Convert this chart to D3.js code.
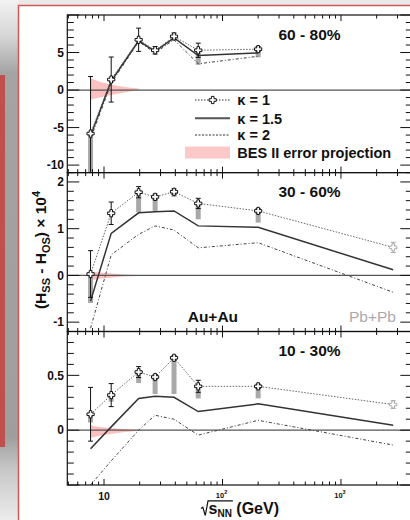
<!DOCTYPE html>
<html>
<head>
<meta charset="utf-8">
<script src="https://cdn.jsdelivr.net/npm/d3@7"></script>
<style>
  body { margin: 0; background: #fff; }
  svg { display: block; font-family: "Liberation Sans", Arial, Helvetica, sans-serif; }
</style>
</head>
<body>
<svg id="chart" width="410" height="520"></svg>
<script>
// ---------------- data ----------------
const energies = [7.7, 11.5, 19.6, 27, 39, 62.4, 200];   // Au+Au, GeV
const lhcEnergy = 2760;                                   // Pb+Pb, GeV
const centralities = ["60 - 80%", "30 - 60%", "10 - 30%"];

// kappa = 1 points with statistical errors
const kappa1_6080 = [-5.8, 1.4, 6.7, 5.3, 7.15, 5.3, 5.45];
const kappa1_3060 = [0.03, 1.33, 1.78, 1.68, 1.79, 1.54, 1.38];
const kappa1_1030 = [0.145, 0.32, 0.53, 0.485, 0.66, 0.4, 0.4];
const statErr_6080 = [7.6, 3.0, 1.55, 0.5, 0.45, 0.95, 0.35];
const statErr_3060 = [0.5, 0.24, 0.12, 0.06, 0.06, 0.11, 0.05];
const statErr_1030 = [0.245, 0.105, 0.05, 0.02, 0.02, 0.055, 0.02];

// lower end of the grey systematic boxes (upper end is the kappa = 1 point)
const sysLow_6080 = [-12, 1.0, 6.3, 5.0, 6.85, 3.37, 4.36];
const sysLow_3060 = [-0.59, 1.28, 1.35, 1.38, 1.68, 1.2, 1.13];
const sysLow_1030 = [0.07, 0.26, 0.43, 0.33, 0.33, 0.29, 0.29];

// kappa = 1.5 and kappa = 2 curves
const kappa15_6080 = [-6.1, 1.2, 6.55, 5.15, 6.95, 4.6, 4.95];
const kappa15_3060 = [-0.55, 0.9, 1.34, 1.36, 1.38, 1.06, 1.03];
const kappa15_1030 = [-0.17, 0.03, 0.29, 0.31, 0.30, 0.17, 0.24];
const kappa2_6080 = [-6.5, 0.9, 6.45, 4.95, 6.7, 3.5, 4.5];
const kappa2_3060 = [-1.13, 0.44, 0.88, 1.06, 0.97, 0.59, 0.7];
const kappa2_1030 = [-0.5, -0.28, 0.0, 0.136, 0.1, -0.045, 0.09];

// Pb+Pb 2.76 TeV: [kappa=1, stat err, kappa=1.5, kappa=2]
const pbpb_3060 = [0.6, 0.11, 0.12, -0.36];
const pbpb_1030 = [0.234, 0.035, 0.045, -0.136];

// BES II error projection band
const besEnergies = [7.7, 9.2, 11.5, 14.5, 19.6];
const besHigh_6080 = [1.6, 1.1, 0.75, 0.45, 0.2];
const besLow_6080 = [-1.3, -1.0, -0.65, -0.35, 0.0];
const besHigh_3060 = [0.09, 0.06, 0.04, 0.02, 0.005];
const besLow_3060 = [-0.1, -0.07, -0.05, -0.025, -0.005];
const besHigh_1030 = [0.045, 0.03, 0.02, 0.01, 0.003];
const besLow_1030 = [-0.07, -0.05, -0.035, -0.02, -0.005];

// axes
const xDomain = [4.9, 4000];
const xMajorTicks = [10, 100, 1000];
const xMinorTicks = [5, 6, 7, 8, 9, 20, 30, 40, 50, 60, 70, 80, 90,
                     200, 300, 400, 500, 600, 700, 800, 900, 2000, 3000];
const xTickLabels = [["10", ""], ["10", "2"], ["10", "3"]];
const yDomains = [[-11, 10], [-1.2, 2.2], [-0.5, 0.9]];
const yMajorSteps = [5, 1, 0.5];
const yMinorSteps = [1, 0.2, 0.1];
const yTickLabels = [[-10, -5, 0, 5], [-1, 0, 1, 2], [0, 0.5]];

// ---------------- assemble panels ----------------
const panels = [
  { label: centralities[0], k1: kappa1_6080, err: statErr_6080, sys: sysLow_6080,
    k15: kappa15_6080, k2: kappa2_6080, pb: null,
    besHi: besHigh_6080, besLo: besLow_6080 },
  { label: centralities[1], k1: kappa1_3060, err: statErr_3060, sys: sysLow_3060,
    k15: kappa15_3060, k2: kappa2_3060, pb: pbpb_3060,
    besHi: besHigh_3060, besLo: besLow_3060 },
  { label: centralities[2], k1: kappa1_1030, err: statErr_1030, sys: sysLow_1030,
    k15: kappa15_1030, k2: kappa2_1030, pb: pbpb_1030,
    besHi: besHigh_1030, besLo: besLow_1030 }
];

// ---------------- layout ----------------
const W = 410, H = 520;
const plotLeft = 67.3, plotRight = 412.3;
const panelTops = [15, 172.6, 331.5];
const panelBottoms = [172.6, 331.5, 485];

const svg = d3.select("#chart");
const defs = svg.append("defs");

// page background: slide frame around the figure
const g0 = defs.append("linearGradient").attr("id", "sideGrad")
  .attr("x1", 0).attr("y1", 0).attr("x2", 0).attr("y2", 1);
[[0, "#f2f2f2"], [0.07, "#d6d6d6"], [0.14, "#a4a4a4"], [0.84, "#9e9e9e"],
 [0.9, "#c6c6c6"], [1, "#ececec"]]
  .forEach(([o, c]) => g0.append("stop").attr("offset", o).attr("stop-color", c));
svg.append("rect").attr("width", W).attr("height", H).attr("fill", "#e9e9e9");
svg.append("rect").attr("x", 0).attr("y", 0).attr("width", 19).attr("height", H)
  .attr("fill", "url(#sideGrad)");
svg.append("rect").attr("x", 0).attr("y", 75).attr("width", 5).attr("height", 372)
  .attr("fill", "#c0504d");
svg.append("rect").attr("x", 18.5).attr("y", 5.5).attr("width", W).attr("height", H)
  .attr("fill", "#fff").attr("stroke", "#cd5a57").attr("stroke-width", 1.5);

const x = d3.scaleLog().domain(xDomain).range([plotLeft, plotRight]);

// open-cross marker outline
function crossPath(a = 3.6, b = 1.3) {
  return `M${-b},${-a}H${b}V${-b}H${a}V${b}H${b}V${a}H${-b}V${b}H${-a}V${-b}H${-b}Z`;
}
function stepRange(d0, d1, step) {
  const k0 = Math.ceil(d0 / step - 1e-9), k1 = Math.floor(d1 / step + 1e-9);
  return d3.range(k0, k1 + 1).map(k => +(k * step).toFixed(6));
}

panels.forEach((p, i) => {
  const top = panelTops[i], bottom = panelBottoms[i];
  const y = d3.scaleLinear().domain(yDomains[i]).range([bottom, top]);
  const clipId = "clip" + i;
  defs.append("clipPath").attr("id", clipId).append("rect")
    .attr("x", plotLeft).attr("y", top).attr("width", plotRight - plotLeft).attr("height", bottom - top);

  const g = svg.append("g");
  const inner = g.append("g").attr("clip-path", `url(#${clipId})`);

  // BES II projection band
  const bes = besEnergies.map((e, j) => ({ e, hi: p.besHi[j], lo: p.besLo[j] }));
  inner.append("path").datum(bes)
    .attr("fill", "#fbbaba").attr("fill-opacity", 0.9)
    .attr("d", d3.area().x(d => x(d.e)).y0(d => y(d.lo)).y1(d => y(d.hi)).curve(d3.curveMonotoneX));

  // zero line
  inner.append("line").attr("x1", plotLeft).attr("x2", plotRight)
    .attr("y1", y(0)).attr("y2", y(0)).attr("stroke", "#555").attr("stroke-width", 1.2);

  // systematic boxes
  inner.selectAll("rect.sys").data(energies.map((e, j) => ({ e, hi: p.k1[j], lo: p.sys[j] })))
    .join("rect").attr("class", "sys")
    .attr("x", d => x(d.e) - 2.5).attr("width", 5)
    .attr("y", d => y(d.hi)).attr("height", d => Math.max(0, y(d.lo) - y(d.hi)))
    .attr("fill", "#a9a9a9");

  const line = d3.line().x(d => x(d.e)).y(d => y(d.v));
  const withPb = (arr, idx) => {
    const pts = energies.map((e, j) => ({ e, v: arr[j] }));
    if (p.pb) pts.push({ e: lhcEnergy, v: p.pb[idx] });
    return pts;
  };

  // kappa = 2 (dash-dot)
  inner.append("path").datum(withPb(p.k2, 3)).attr("d", line)
    .attr("fill", "none").attr("stroke", "#444").attr("stroke-width", 1)
    .attr("stroke-dasharray", "3,2,1,2");
  // kappa = 1.5 (solid)
  inner.append("path").datum(withPb(p.k15, 2)).attr("d", line)
    .attr("fill", "none").attr("stroke", "#333").attr("stroke-width", 1.5);
  // kappa = 1 (dotted)
  inner.append("path").datum(withPb(p.k1, 0)).attr("d", line)
    .attr("fill", "none").attr("stroke", "#666").attr("stroke-width", 1)
    .attr("stroke-dasharray", "1.5,1.5");

  // error bars and markers (Au+Au)
  const pts = energies.map((e, j) => ({ e, v: p.k1[j], err: p.err[j] }));
  const eb = inner.selectAll("g.eb").data(pts).join("g").attr("class", "eb")
    .attr("stroke", "#111").attr("stroke-width", 1);
  eb.append("line").attr("x1", d => x(d.e)).attr("x2", d => x(d.e))
    .attr("y1", d => y(d.v + d.err)).attr("y2", d => y(d.v - d.err));
  eb.append("line").attr("x1", d => x(d.e) - 2.5).attr("x2", d => x(d.e) + 2.5)
    .attr("y1", d => y(d.v + d.err)).attr("y2", d => y(d.v + d.err));
  eb.append("line").attr("x1", d => x(d.e) - 2.5).attr("x2", d => x(d.e) + 2.5)
    .attr("y1", d => y(d.v - d.err)).attr("y2", d => y(d.v - d.err));
  inner.selectAll("path.mk").data(pts).join("path").attr("class", "mk")
    .attr("transform", d => `translate(${x(d.e)},${y(d.v)})`)
    .attr("d", crossPath()).attr("fill", "#fff").attr("stroke", "#111").attr("stroke-width", 1);

  // Pb+Pb point
  if (p.pb) {
    const px = x(lhcEnergy), v = p.pb[0], e = p.pb[1];
    const gp = inner.append("g").attr("stroke", "#aaa").attr("stroke-width", 1);
    gp.append("line").attr("x1", px).attr("x2", px).attr("y1", y(v + e)).attr("y2", y(v - e));
    gp.append("line").attr("x1", px - 2.5).attr("x2", px + 2.5).attr("y1", y(v + e)).attr("y2", y(v + e));
    gp.append("line").attr("x1", px - 2.5).attr("x2", px + 2.5).attr("y1", y(v - e)).attr("y2", y(v - e));
    gp.append("path").attr("transform", `translate(${px},${y(v)})`).attr("d", crossPath()).attr("fill", "#fff");
  }

  // frame
  g.append("rect").attr("x", plotLeft).attr("y", top)
    .attr("width", plotRight - plotLeft).attr("height", bottom - top)
    .attr("fill", "none").attr("stroke", "#111").attr("stroke-width", 1.2);

  // y ticks (left and right, pointing inward)
  const ticks = g.append("g").attr("stroke", "#111").attr("stroke-width", 1);
  const [d0, d1] = yDomains[i];
  const majors = stepRange(d0, d1, yMajorSteps[i]);
  const minors = stepRange(d0, d1, yMinorSteps[i]).filter(v => !majors.some(m => Math.abs(m - v) < 1e-6));
  majors.forEach(v => {
    ticks.append("line").attr("x1", plotLeft).attr("x2", plotLeft + 12).attr("y1", y(v)).attr("y2", y(v));
    ticks.append("line").attr("x1", plotRight).attr("x2", plotRight - 12).attr("y1", y(v)).attr("y2", y(v));
  });
  minors.forEach(v => {
    ticks.append("line").attr("x1", plotLeft).attr("x2", plotLeft + 6.5).attr("y1", y(v)).attr("y2", y(v));
    ticks.append("line").attr("x1", plotRight).attr("x2", plotRight - 6.5).attr("y1", y(v)).attr("y2", y(v));
  });
  // x ticks (top and bottom, pointing inward)
  xMajorTicks.forEach(t => {
    ticks.append("line").attr("x1", x(t)).attr("x2", x(t)).attr("y1", bottom).attr("y2", bottom - 6);
    ticks.append("line").attr("x1", x(t)).attr("x2", x(t)).attr("y1", top).attr("y2", top + 6);
  });
  xMinorTicks.forEach(t => {
    ticks.append("line").attr("x1", x(t)).attr("x2", x(t)).attr("y1", bottom).attr("y2", bottom - 3.5);
    ticks.append("line").attr("x1", x(t)).attr("x2", x(t)).attr("y1", top).attr("y2", top + 3.5);
  });

  // y tick labels
  g.selectAll("text.yl").data(yTickLabels[i]).join("text").attr("class", "yl")
    .attr("x", 64).attr("y", v => y(v)).attr("dy", "0.36em")
    .attr("text-anchor", "end").attr("font-size", 12).attr("font-weight", "bold")
    .attr("fill", "#111").text(v => String(v));

  // centrality label
  g.append("text").attr("x", 278.5).attr("y", top + 24.5)
    .attr("font-size", 15.5).attr("font-weight", "bold").attr("fill", "#111").text(p.label);
});

// collision system labels (middle panel)
svg.append("text").attr("x", 187.7).attr("y", 322).attr("font-size", 15.5)
  .attr("font-weight", "bold").attr("fill", "#111").text("Au+Au");
svg.append("text").attr("x", 349).attr("y", 322).attr("font-size", 15.5)
  .attr("fill", "#aaa").text("Pb+Pb");

// legend (top panel)
const leg = svg.append("g");
const legRows = [
  { label: "\u03ba = 1", y: 100, style: "k1" },
  { label: "\u03ba = 1.5", y: 118.3, style: "k15" },
  { label: "\u03ba = 2", y: 135, style: "k2" },
  { label: "BES II error projection", y: 152.5, style: "bes" }
];
legRows.forEach(r => {
  if (r.style === "k1") {
    leg.append("line").attr("x1", 195).attr("x2", 230).attr("y1", r.y).attr("y2", r.y)
      .attr("stroke", "#333").attr("stroke-width", 1).attr("stroke-dasharray", "1.5,1.5");
    leg.append("path").attr("transform", `translate(212.7,${r.y})`).attr("d", crossPath())
      .attr("fill", "#fff").attr("stroke", "#111");
  } else if (r.style === "k15") {
    leg.append("line").attr("x1", 195).attr("x2", 230).attr("y1", r.y).attr("y2", r.y)
      .attr("stroke", "#555").attr("stroke-width", 2);
  } else if (r.style === "k2") {
    leg.append("line").attr("x1", 195).attr("x2", 230).attr("y1", r.y).attr("y2", r.y)
      .attr("stroke", "#333").attr("stroke-width", 1).attr("stroke-dasharray", "2,1.5");
  } else {
    leg.append("rect").attr("x", 185).attr("y", r.y - 6).attr("width", 45).attr("height", 12)
      .attr("fill", "#fcc8c8");
  }
  leg.append("text").attr("x", 237.3).attr("y", r.y).attr("dy", "0.36em")
    .attr("font-size", 14.5).attr("font-weight", "bold").attr("fill", "#111").text(r.label);
});

// x tick labels under the bottom panel
xMajorTicks.forEach((t, k) => {
  const [base, sup] = xTickLabels[k];
  if (!sup) {
    svg.append("text").attr("x", x(t)).attr("y", 499.5).attr("text-anchor", "middle")
      .attr("font-size", 10.5).attr("font-weight", "bold").attr("fill", "#111").text(base);
  } else {
    const tx = svg.append("text").attr("x", x(t) - 1).attr("y", 497.5).attr("text-anchor", "middle")
      .attr("font-size", 7.5).attr("font-weight", "bold").attr("fill", "#111");
    tx.append("tspan").text(base);
    tx.append("tspan").attr("font-size", 5.5).attr("dy", -3.5).text(sup);
  }
});

// x axis title: sqrt(s_NN) (GeV)
const xt = svg.append("text").attr("x", 208.5).attr("y", 514)
  .attr("font-size", 16).attr("font-weight", "bold").attr("fill", "#111");
xt.append("tspan").text("s");
xt.append("tspan").attr("font-size", 10).attr("dy", 2.5).text("NN");
xt.append("tspan").attr("dy", -2.5).text(" (GeV)");
const radEnd = 208.5 + xt.node().getSubStringLength(0, 3) + 1;
svg.append("path")
  .attr("d", `M201,508.5L202.8,507.2L205.3,515.5L208,500.8L${radEnd},500.8`)
  .attr("fill", "none").attr("stroke", "#111").attr("stroke-width", 1.2);

// y axis title
const yt = svg.append("text").attr("transform", "translate(45.5,250) rotate(-90)")
  .attr("text-anchor", "middle").attr("font-size", 15.5).attr("font-weight", "bold").attr("fill", "#111");
yt.append("tspan").text("(H");
yt.append("tspan").attr("font-size", 11).attr("dy", 4).text("SS");
yt.append("tspan").attr("dy", -4).text(" - H");
yt.append("tspan").attr("font-size", 11).attr("dy", 4).text("OS");
yt.append("tspan").attr("dy", -4).text(") \u00d7 10");
yt.append("tspan").attr("font-size", 11).attr("dy", -6).text("4");
</script>
</body>
</html>
